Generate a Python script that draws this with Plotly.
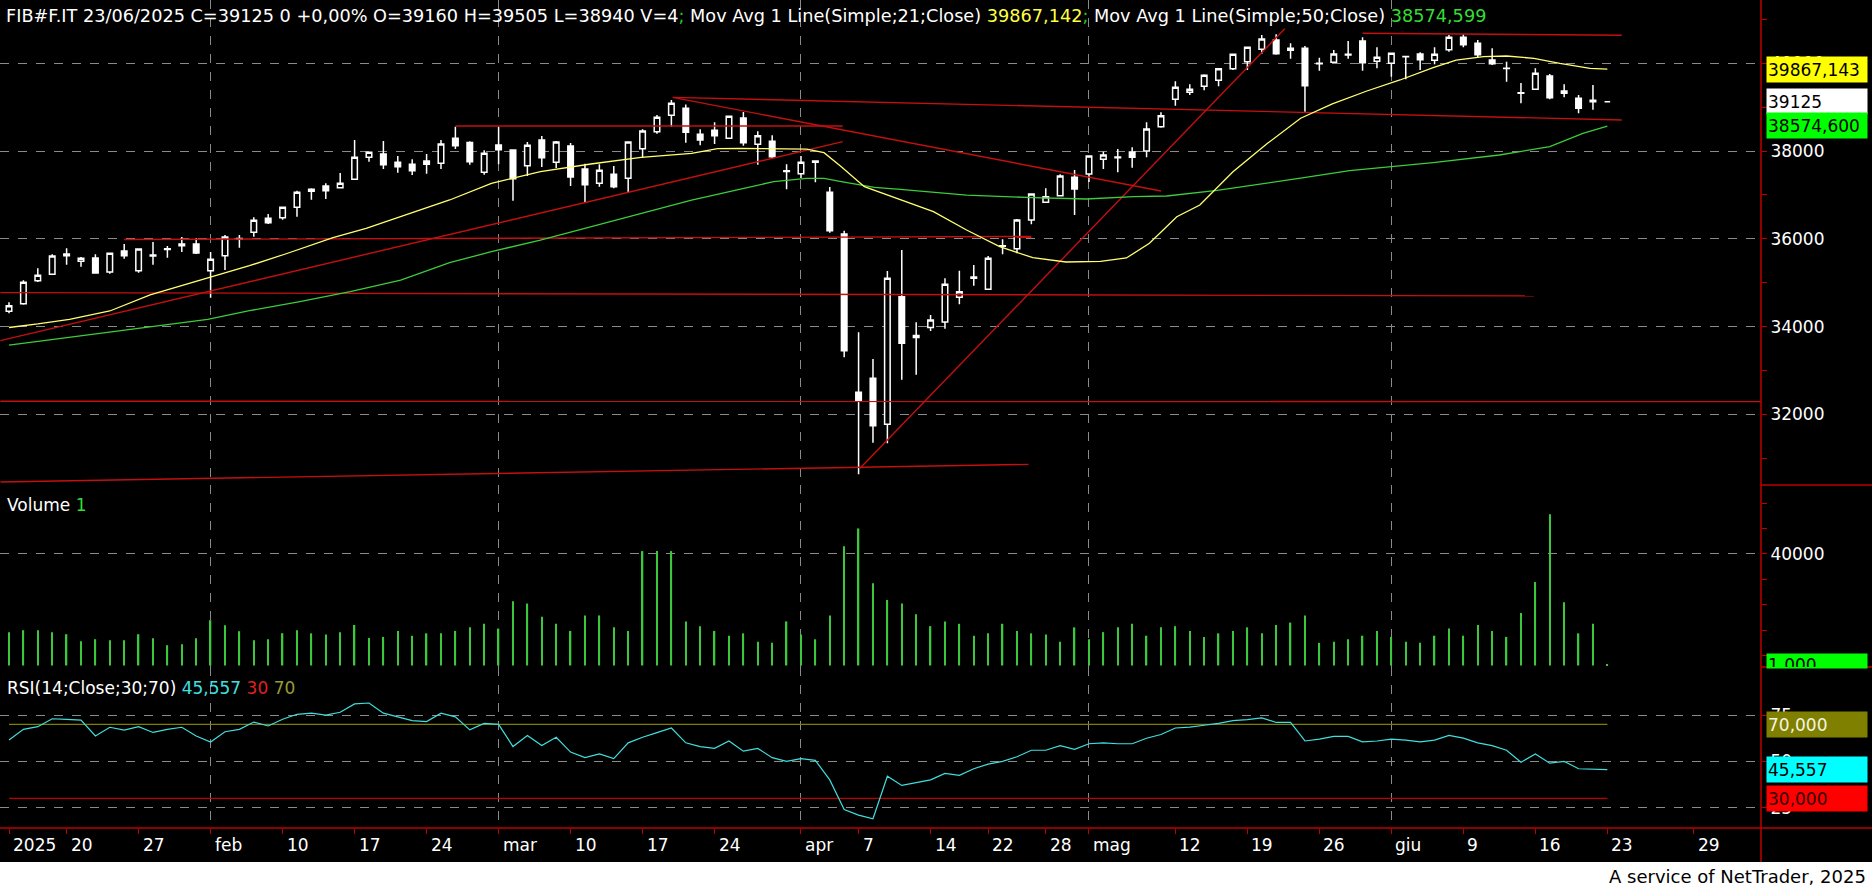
import plotly.graph_objects as go

# ---------------- data: index 0 = 14/01/2025, one step per trading day ----------------
opens = [34348, 34523, 35047, 35192, 35655, 35488, 35564, 35245, 35723, 35275,
         35610, 35760, 35883, 35883, 35275, 35617, 35995, 36149, 36468, 36483,
         36718, 37083, 37205, 37167, 37357, 37858, 37934, 37744, 37698, 37774,
         37722, 38291, 38199, 37516, 38139, 38025, 37668, 38253, 37744, 38116,
         37592, 37265, 37470, 37379, 38055, 38443, 38815, 38974, 38382, 38473,
         38291, 38754, 38154, 38222, 37554, 37485, 37774, 37060, 36110, 32502,
         32821, 31772, 34682, 33750, 33980, 34105, 34667, 35100, 34850, 35830,
         35776, 36430, 36832, 36984, 37402, 37478, 37812, 37850, 37980, 38002,
         38557, 39180, 39339, 39476, 39613, 39879, 40038, 40319, 40532, 40297,
         40342, 39990, 40023, 40205, 40509, 40046, 40000, 40150, 40213, 40069,
         40312, 40593, 40456, 40076, 39880, 39320, 39408, 39712, 39317, 39203,
         39160, 39125]
highs = [34554, 35055, 35328, 35648, 35784, 35587, 35648, 35680, 35883, 35769,
         35928, 35837, 36042, 36020, 35701, 36088, 36088, 36490, 36567, 36718,
         37098, 37152, 37265, 37501, 38253, 37972, 38230, 37888, 37812, 37934,
         38253, 38557, 38222, 38017, 38549, 38040, 38207, 38344, 38230, 38184,
         37713, 37698, 37660, 38207, 38496, 38822, 39164, 39065, 38496, 38655,
         38792, 38891, 38450, 38359, 37698, 37888, 37789, 37181, 36186, 33869,
         33261, 35267, 35746, 34100, 34265, 35100, 35275, 35404, 35609, 35989,
         36453, 37037, 37152, 37471, 37569, 37888, 37987, 38048, 38086, 38656,
         38884, 39590, 39522, 39750, 39879, 40206, 40365, 40646, 40661, 40456,
         40395, 40130, 40304, 40509, 40593, 40365, 40240, 40160, 40251, 40365,
         40646, 40661, 40532, 40342, 40038, 39552, 39886, 39757, 39522, 39279,
         39505, 39125]
lows = [34303, 34500, 35017, 35180, 35412, 35366, 35207, 35207, 35549, 35230,
        35412, 35572, 35701, 35655, 34660, 35290, 35799, 36050, 36339, 36437,
        36506, 36893, 36908, 37152, 37357, 37759, 37592, 37509, 37456, 37486,
        37592, 38047, 37690, 37462, 37698, 36870, 37432, 37637, 37614, 37204,
        36824, 37189, 37151, 37052, 37850, 38397, 38556, 38192, 38131, 38161,
        38275, 38124, 37690, 37827, 37128, 37387, 37288, 36141, 33299, 30633,
        31354, 31339, 32790, 32900, 33900, 33950, 34508, 34933, 34850, 35647,
        35670, 36331, 36832, 36984, 36544, 37296, 37592, 37516, 37622, 37858,
        38534, 39036, 39279, 39385, 39476, 39849, 39849, 40221, 40198, 40107,
        38899, 39833, 40023, 40107, 39833, 39886, 39697, 39636, 39849, 39978,
        40266, 40365, 40130, 39962, 39583, 39089, 39408, 39180, 39226, 38861,
        38940, 39125]
closes = [34478, 35010, 35169, 35610, 35617, 35556, 35222, 35670, 35617, 35769,
          35630, 35775, 35845, 35678, 35533, 36042, 36010, 36422, 36369, 36718,
          37060, 37129, 37098, 37265, 37858, 37972, 37691, 37645, 37554, 37698,
          38162, 38124, 37759, 37949, 38032, 37371, 38131, 37850, 38207, 37409,
          37235, 37561, 37189, 38207, 38458, 38769, 39088, 38427, 38253, 38351,
          38792, 38192, 38351, 37873, 37538, 37744, 37744, 36186, 33451, 32312,
          31742, 35100, 33620, 33800, 34150, 34964, 34796, 35130, 35556, 35845,
          36430, 37022, 36962, 37433, 37136, 37888, 37911, 37865, 37858, 38504,
          38808, 39453, 39408, 39727, 39879, 40206, 40365, 40555, 40221, 40342,
          39491, 40005, 40213, 40190, 40016, 40137, 40228, 40155, 40084, 40206,
          40593, 40426, 40198, 39993, 39890, 39330, 39772, 39218, 39370, 38975,
          39125, 39125]
volumes = [11940, 12650, 12650, 11940, 11220, 8710, 9430, 9070, 9070, 11220,
           9790, 7280, 7640, 9790, 16240, 14450, 12300, 9070, 9430, 11580,
           12650, 11540, 11110, 11970, 14530, 9830, 10260, 12400, 10690, 11540,
           11540, 12400, 13680, 14960, 13250, 23080, 22230, 17530, 14960, 12400,
           17960, 17960, 13680, 12400, 41040, 41040, 41040, 15820, 14110, 12400,
           10690, 11540, 8550, 8120, 15820, 11110, 9400, 17960, 42750, 49160,
           29500, 23510, 22230, 18380, 14110, 15820, 14960, 10690, 11540, 14960,
           12400, 11540, 11110, 8550, 13680, 9400, 11970, 13680, 14960, 10690,
           13680, 14110, 12400, 10260, 11540, 12400, 13680, 11540, 14530, 15390,
           17960, 8120, 8550, 9400, 10690, 12400, 10260, 8550, 8120, 10690,
           13250, 10690, 14530, 12400, 10260, 18810, 29930, 54290, 22660, 11540,
           14960, 400]
rsi_values = [61.5, 67.3, 68.7, 73.0, 72.7, 72.3, 63.7, 68.4, 66.9, 68.7,
              65.6, 67.3, 68.4, 63.7, 60.4, 66.0, 67.3, 71.2, 69.1, 72.7,
              75.4, 76.0, 75.0, 76.5, 81.0, 81.5, 76.0, 74.0, 72.0, 71.5,
              76.0, 74.0, 67.0, 70.5, 70.0, 58.0, 64.0, 58.5, 63.0, 55.0,
              52.0, 54.0, 51.5, 60.0, 63.0, 65.5, 68.0, 60.0, 58.0, 57.0,
              61.0, 55.5, 57.0, 52.0, 50.0, 51.5, 50.5, 40.0, 24.0, 21.0,
              19.0, 42.0, 37.0, 38.5, 40.0, 43.5, 42.5, 46.0, 48.5, 50.0,
              52.5, 56.0, 56.0, 58.5, 56.5, 59.5, 60.0, 59.5, 59.5, 62.5,
              64.5, 68.0, 68.5, 69.5, 70.5, 72.0, 72.5, 73.5, 71.0, 71.0,
              61.0, 62.0, 63.5, 63.5, 60.5, 61.0, 62.0, 61.5, 60.5, 61.5,
              64.0, 62.5, 60.0, 58.5, 56.0, 49.5, 54.0, 49.0, 50.0, 46.0,
              45.6, 45.557]
ma21_idx = [0, 2, 4.2, 7, 9.8, 13.3, 16.7, 19.2, 22.5, 24.8, 27.2, 29.5, 30.6,
            33.5, 36.9, 40.4, 43.9, 47.4, 49.2, 50.8, 53.1, 55.4, 56.6, 57.8,
            59.4, 61.3, 64.2, 66.5, 68.8, 71.1, 73.4, 75.8, 77.6, 79.2, 81.1,
            82.7, 85.0, 87.4, 89.7, 91.9, 94.3, 96.6, 98.9, 100.5, 102.4, 104.0,
            105.9, 107.7, 109.8, 111]
ma21_val = [33980, 34060, 34166, 34356, 34721, 35062, 35389, 35655, 36027, 36240,
            36506, 36772, 36886, 37265, 37531, 37706, 37858, 37949, 38055, 38063,
            38063, 38047, 37964, 37645, 37189, 36961, 36620, 36202, 35822, 35571,
            35473, 35488, 35564, 35898, 36506, 36772, 37531, 38177, 38750, 39075,
            39370, 39621, 39902, 40076, 40152, 40168, 40114, 40000, 39886, 39867]
ma50_idx = [0, 5, 10, 13.8, 16.7, 20.2, 23.7, 27.2, 30.6, 33.5, 36.9, 40.4, 43.9,
            47.4, 50.8, 53.1, 55.4, 56.6, 57.8, 60.1, 61.9, 66.5, 71.1, 74.8,
            78.1, 80.4, 83.9, 87.4, 89.7, 93.1, 98.9, 103.5, 107.0, 109.3, 111]
ma50_val = [33580, 33790, 34000, 34166, 34364, 34569, 34797, 35062, 35458, 35707,
            35973, 36277, 36581, 36885, 37136, 37303, 37379, 37379, 37303, 37174,
            37129, 36999, 36939, 36908, 36962, 36977, 37106, 37266, 37385, 37554,
            37737, 37911, 38101, 38405, 38572]
# drawn trend lines: (start index, start price, end index, end price)
trendlines = [(94.0, 40685, 112.0, 40640),
              (46.1, 39225, 112.0, 38709),
              (46.1, 39225, 80.0, 37091),
              (31.0, 38572, 57.9, 38572),
              (-0.6, 33680, 57.9, 38215),
              (8.0, 35985, 71.0, 36055),
              (-0.6, 34775, 105.9, 34700),
              (-0.6, 32300, 121.7, 32290),
              (-0.6, 30460, 70.8, 30860),
              (59.1, 30770, 88.6, 40790)]
tick_idx = [0, 4, 9, 14, 19, 24, 29, 34, 39, 44, 49, 55, 59, 64, 68, 72, 75,
            81, 86, 91, 96, 101, 106, 111, 117]
tick_labels = ["2025", "20", "27", "feb", "10", "17", "24", "mar", "10", "17",
               "24", "apr", "7", "14", "22", "28", "mag", "12", "19", "26",
               "giu", "9", "16", "23", "29"]
month_idx = [14, 34, 55, 75, 96]
rsi_low, rsi_high = 30, 70
last_ma21, last_close, last_ma50 = 39867.143, 39125, 38574.600
last_rsi = 45.557
last_volume_label = 1

days = list(range(len(closes)))

# ---------------- layout geometry (pixels) ----------------
W, H = 1872, 888
CHART_R = 1761
PRICE_B, VOL_B, RSI_B, BLACK_B = 485, 667, 828, 862
FONT = "DejaVu Sans"
RED = "#c00000"
GRID = "#8a8a8a"


def py(p):
    return 1 - p / H


def px(p):
    return p / W


fig = go.Figure()

fig.add_trace(go.Candlestick(
    x=days, open=opens, high=highs, low=lows, close=closes,
    increasing=dict(line=dict(color="white", width=1.5), fillcolor="black"),
    decreasing=dict(line=dict(color="white", width=1.5), fillcolor="white"),
    whiskerwidth=0, xaxis="x", yaxis="y", hoverinfo="skip"))

tx, ty = [], []
for (a, b, c, d) in trendlines:
    tx += [a, c, None]
    ty += [b, d, None]
fig.add_trace(go.Scatter(x=tx, y=ty, mode="lines", line=dict(color="#c41010", width=1.4),
                         xaxis="x", yaxis="y", hoverinfo="skip"))
fig.add_trace(go.Scatter(x=ma50_idx, y=ma50_val, mode="lines",
                         line=dict(color="#3ccc3c", width=1.3), xaxis="x", yaxis="y"))
fig.add_trace(go.Scatter(x=ma21_idx, y=ma21_val, mode="lines",
                         line=dict(color="#ffff70", width=1.3), xaxis="x", yaxis="y"))

fig.add_trace(go.Bar(x=days, y=volumes, width=0.1,
                     marker=dict(color="#3cc83c", line=dict(width=0)),
                     xaxis="x2", yaxis="y2", hoverinfo="skip"))

fig.add_trace(go.Scatter(x=[days[0], days[-1]], y=[rsi_high, rsi_high], mode="lines",
                         line=dict(color="#808000", width=1.3), xaxis="x3", yaxis="y3"))
fig.add_trace(go.Scatter(x=[days[0], days[-1]], y=[rsi_low, rsi_low], mode="lines",
                         line=dict(color="#c00000", width=1.3), xaxis="x3", yaxis="y3"))
fig.add_trace(go.Scatter(x=days, y=rsi_values, mode="lines",
                         line=dict(color="#40dede", width=1.2), xaxis="x3", yaxis="y3"))

xr = [-0.625, 121.67]
xbase = dict(range=xr, domain=[0, px(CHART_R)], showgrid=True, gridcolor=GRID,
             griddash="dash", gridwidth=1, tickmode="array", tickvals=month_idx,
             ticktext=[""] * len(month_idx), showticklabels=False, zeroline=False,
             showline=False, fixedrange=True)
yfont = dict(color="white", size=17, family=FONT)
ybase = dict(side="right", showgrid=True, gridcolor=GRID, griddash="dash", gridwidth=1,
             zeroline=False, showline=False, ticks="outside", ticklen=5, tickcolor=RED,
             tickfont=yfont, fixedrange=True, tickformat="d")

fig.update_layout(
    width=W, height=H, margin=dict(l=0, r=0, t=0, b=0, pad=0),
    paper_bgcolor="white", plot_bgcolor="black", showlegend=False, boxgap=0.45,
    xaxis=dict(xbase, anchor="y", rangeslider=dict(visible=False)),
    xaxis2=dict(xbase, anchor="y2", matches="x"),
    xaxis3=dict(xbase, anchor="y3", matches="x", ticks="outside", ticklen=10,
                tickcolor=RED,
                minor=dict(tickmode="array", tickvals=tick_idx, ticks="outside",
                           ticklen=5, tickcolor=RED, showgrid=False)),
    yaxis=dict(ybase, anchor="x", domain=[py(PRICE_B), 1], range=[30390, 41444],
               tickmode="linear", tick0=0, dtick=2000,
               minor=dict(tick0=0, dtick=1000, ticks="outside", ticklen=5,
                          tickcolor=RED, showgrid=False)),
    yaxis2=dict(ybase, anchor="x2", domain=[py(VOL_B), py(PRICE_B)],
                range=[-538, 64745], tickmode="array", tickvals=[40000],
                minor=dict(tick0=40000, dtick=9100, ticks="outside", ticklen=5,
                           tickcolor=RED, showgrid=False)),
    yaxis3=dict(ybase, anchor="x3", domain=[py(RSI_B), py(VOL_B)],
                range=[14.04, 100.92], tickmode="array", tickvals=[25, 50, 75]),
)

shapes = [
    dict(type="rect", xref="paper", yref="paper", x0=0, x1=1, y0=py(BLACK_B), y1=1,
         fillcolor="black", line=dict(width=0), layer="below"),
    dict(type="line", xref="paper", yref="paper", x0=px(CHART_R), x1=px(CHART_R),
         y0=py(BLACK_B), y1=1, line=dict(color=RED, width=1.5)),
    dict(type="line", xref="paper", yref="paper", x0=px(CHART_R), x1=1,
         y0=py(PRICE_B), y1=py(PRICE_B), line=dict(color=RED, width=1.5)),
    dict(type="line", xref="paper", yref="paper", x0=px(CHART_R), x1=1,
         y0=py(VOL_B), y1=py(VOL_B), line=dict(color=RED, width=1.5)),
    dict(type="line", xref="paper", yref="paper", x0=0, x1=1,
         y0=py(RSI_B), y1=py(RSI_B), line=dict(color=RED, width=1.5)),
]
fig.update_layout(shapes=shapes)


def span(t, c):
    return '<span style="color:%s">%s</span>' % (c, t)


def fmt(v, d=3):
    return ("%.*f" % (d, v)).replace(".", ",")


header = ("FIB#F.IT 23/06/2025 C=%d 0 +0,00%% O=%d H=%d L=%d V=4" %
          (closes[-2], opens[-2], highs[-2], lows[-2])
          + span(";", "#22cc22") + " Mov Avg 1 Line(Simple;21;Close) "
          + span("39867,142", "#ffff40") + span(";", "#22cc22")
          + " Mov Avg 1 Line(Simple;50;Close) " + span("38574,599", "#33dd33"))

ann = [
    dict(text=header, x=px(4), y=py(16), xref="paper", yref="paper", xanchor="left",
         yanchor="middle", showarrow=False, font=dict(color="white", size=17.7, family=FONT)),
    dict(text="Volume " + span(str(last_volume_label), "#33dd33"), x=px(5), y=py(505),
         xref="paper", yref="paper", xanchor="left", yanchor="middle", showarrow=False,
         font=dict(color="white", size=17, family=FONT)),
    dict(text="RSI(14;Close;30;70) " + span(fmt(last_rsi), "#40e0e0") + " "
         + span(str(rsi_low), "#e02020") + " " + span(str(rsi_high), "#9a9a30"),
         x=px(5), y=py(688), xref="paper", yref="paper", xanchor="left",
         yanchor="middle", showarrow=False, font=dict(color="white", size=17, family=FONT)),
    dict(text="A service of NetTrader, 2025", x=px(1868), y=py(876), xref="paper",
         yref="paper", xanchor="right", yanchor="middle", showarrow=False,
         font=dict(color="black", size=18, family=FONT)),
]


def box(text, y, yref, bg, fg, **kw):
    d = dict(text=text, x=px(1766), xref="paper", xanchor="left", y=y, yref=yref,
             yanchor="middle", showarrow=False, bgcolor=bg, width=98, height=23,
             borderpad=1, align="left", font=dict(color=fg, size=17, family=FONT))
    d.update(kw)
    return d


ann += [
    box(fmt(last_ma21), last_ma21, "y", "#ffff00", "black"),
    box(str(last_close), last_close, "y", "#ffffff", "black"),
    box(fmt(last_ma50), last_ma50, "y", "#00ff00", "black"),
    box(fmt(last_volume_label), last_volume_label, "y2", "#00ff00", "black",
        yanchor="top", yshift=12.5, height=12, valign="top"),
    box(fmt(rsi_high), rsi_high, "y3", "#808000", "#f4f4e0"),
    box(fmt(last_rsi), last_rsi, "y3", "#00ffff", "black"),
    box(fmt(rsi_low), rsi_low, "y3", "#ff0000", "#300000"),
]

for i, lab in zip(tick_idx, tick_labels):
    ann.append(dict(text=lab, x=i, xref="x", y=py(845), yref="paper", xanchor="left",
                    yanchor="middle", xshift=2, showarrow=False,
                    font=dict(color="white", size=17, family=FONT)))

fig.update_layout(annotations=ann)

fig.write_html(
    "out.html",
    config={"displayModeBar": False},
    post_script=("document.body.style.margin='0';"
                 "document.body.style.padding='0';"
                 "document.documentElement.style.overflow='hidden';"))
